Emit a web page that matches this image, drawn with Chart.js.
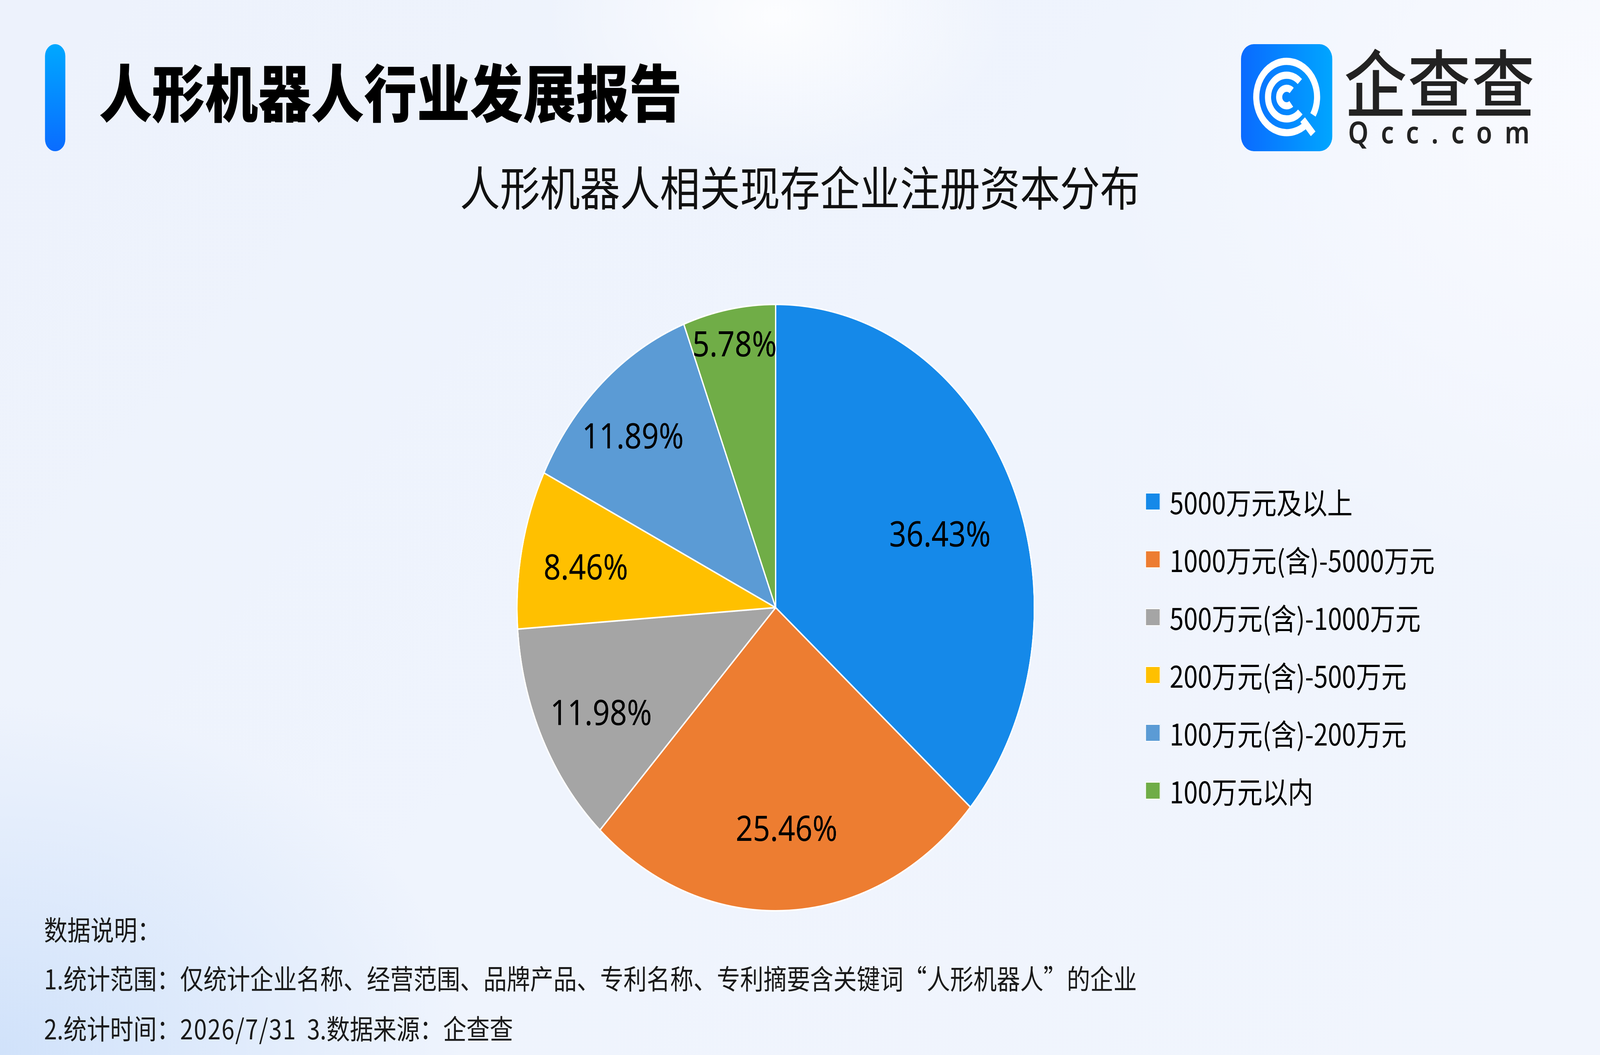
<!DOCTYPE html>
<html>
<head>
<meta charset="utf-8">
<script src="https://cdn.jsdelivr.net/npm/chart.js@4.4.1/dist/chart.umd.min.js"></script>
<style>
  @font-face {
    font-family: "LogoCJK";
    src: local("Noto Sans CJK SC Medium"), local("NotoSansCJKsc-Medium"), local("Noto Sans CJK SC"), local("Noto Sans CJK SC Regular"), local("NotoSansCJKsc-Regular");
    ascent-override: 90%; descent-override: 10%; line-gap-override: 0%;
  }
  @font-face {
    font-family: "LogoLatin";
    src: local("Noto Sans SemiBold"), local("NotoSans-SemiBold"), local("Noto Sans Medium"), local("NotoSans-Medium"), local("Noto Sans Regular"), local("NotoSans-Regular"), local("Noto Sans");
    ascent-override: 80%; descent-override: 22%; line-gap-override: 0%;
  }
  html, body { margin: 0; padding: 0; width: 100vw; height: 100vh; overflow: hidden; background: #eef3fc; }
  #stage {
    position: absolute; left: 0; top: 0; width: 4800px; height: 2700px; overflow: hidden;
    transform-origin: 0 0;
    font-family: "Noto Sans CJK SC", "Noto Sans", sans-serif;
    background:
      radial-gradient(ellipse 700px 380px at 2330px 40px, rgba(255,255,255,0.85), rgba(255,255,255,0) 100%),
      radial-gradient(ellipse 1400px 900px at 0px 2700px, rgba(205,224,250,0.9), rgba(205,224,250,0) 100%),
      radial-gradient(ellipse 1500px 1200px at 4800px 300px, rgba(250,251,255,0.9), rgba(250,251,255,0) 100%),
      linear-gradient(135deg, #edf2fc 0%, #eff4fd 50%, #f1f5fd 100%);
  }
  .bar {
    position: absolute; left: 135px; top: 113px; width: 61px; height: 274px;
    border-radius: 31px; background: linear-gradient(180deg, #00a8ff 0%, #0a6cff 100%);
  }
  .title {
    position: absolute; left: 297px; top: 143px; font-size: 159px; line-height: 174px;
    font-weight: 900; color: #000; white-space: nowrap;
  }
  .subtitle {
    position: absolute; left: 0; width: 4800px; top: 410px; text-align: center;
    font-size: 120px; line-height: 130px; color: #111; white-space: nowrap;
  }
  .logo-icon { position: absolute; left: 3723px; top: 113px; width: 274px; height: 274px; }
  .logo-cn {
    position: absolute; left: 4032px; top: 116px; font-family: "LogoCJK", "Noto Sans CJK SC", sans-serif;
    font-size: 188px; line-height: 188px; font-weight: 500; color: #222; letter-spacing: 4px; white-space: nowrap;
  }
  .logo-en {
    position: absolute; left: 4044px; top: 305px; font-family: "LogoLatin", "Noto Sans", sans-serif;
    font-size: 78px; line-height: 80px; font-weight: 600; color: #222; letter-spacing: 37px; white-space: nowrap;
  }
  #chartBox { position: absolute; left: 1527px; top: 755px; width: 1600px; height: 1600px; }
  #legend { position: absolute; left: 3436px; top: 0; }
  .lg-row { position: absolute; left: 0; height: 80px; display: flex; align-items: center; white-space: nowrap; }
  .lg-box { width: 41px; height: 41px; border: 2px solid #fff; flex: none; }
  .lg-text { margin-left: 28px; font-size: 76px; line-height: 80px; color: #000; }
  .foot { position: absolute; left: 132px; font-size: 70px; line-height: 80px; color: #1a1a1a; white-space: pre; }
  .num { letter-spacing: 2.5px; }
</style>
</head>
<body>
<div id="stage">
<div class="bar"></div>
<div class="title">人形机器人行业发展报告</div>
<div class="subtitle">人形机器人相关现存企业注册资本分布</div>

<svg class="logo-icon" viewBox="0 0 100 100">
  <defs>
    <linearGradient id="lg" x1="0" y1="0" x2="1" y2="0">
      <stop offset="0" stop-color="#0a6aff"/>
      <stop offset="1" stop-color="#00a6ff"/>
    </linearGradient>
  </defs>
  <rect x="0" y="0" width="100" height="100" rx="14" ry="14" fill="url(#lg)"/>
  <g fill="none" stroke="#fff" stroke-width="6.7" stroke-linecap="butt">
    <path d="M 78.84 66.05 A 33.3 33.3 0 1 0 71.4 74.9"/>
    <path d="M 67.5 70.5 L 79 83.8"/>
    <path d="M 64.42 34.98 A 20.4 20.4 0 1 0 64.92 63.31"/>
    <path d="M 55.49 43.31 A 8.2 8.2 0 1 0 55.05 55.86"/>
  </g>
</svg>
<div class="logo-cn">企查查</div>
<div class="logo-en">Qcc.com</div>

<div id="chartBox"><canvas id="c"></canvas></div>
<div id="legend"></div>

<div class="foot" style="top:2337px">数据说明：</div>
<div class="foot" style="top:2462px">1.统计范围：仅统计企业名称、经营范围、品牌产品、专利名称、专利摘要含关键词“人形机器人”的企业</div>
<div class="foot" style="top:2590px">2.统计时间：<span class="num">2026/7/31</span>  3.数据来源：企查查</div>
</div>

<script>
// ---- data ----
const categories = ['5000万元及以上', '1000万元(含)-5000万元', '500万元(含)-1000万元', '200万元(含)-500万元', '100万元(含)-200万元', '100万元以内'];
const shares = [36.43, 25.46, 11.98, 8.46, 11.89, 5.78];
const labelTexts = ['36.43%', '25.46%', '11.98%', '8.46%', '11.89%', '5.78%'];

// ---- styles ----
const sliceColors = ['#1589e9', '#ed7d31', '#a5a5a5', '#ffc000', '#5b9bd5', '#70ad47'];
// label placement relative to each arc: fraction of outer radius, angular nudge (deg)
const labelRadialFraction = [0.680, 0.729, 0.756, 0.746, 0.789, 0.884];
const labelAngleNudge = [3.5, -0.3, -1.6, -0.8, -1.9, 0.1];

// fill the 4800x2700 design into the actual viewport
const stage = document.getElementById('stage');
const sx = window.innerWidth / 4800, sy = window.innerHeight / 2700;
stage.style.transform = 'scale(' + sx + ',' + sy + ')';

const sliceLabels = {
  id: 'sliceLabels',
  afterDatasetsDraw(chart) {
    const ctx = chart.ctx;
    const meta = chart.getDatasetMeta(0);
    ctx.save();
    ctx.font = '90px "Noto Sans", sans-serif';
    ctx.fillStyle = '#000';
    ctx.textAlign = 'left';
    ctx.textBaseline = 'alphabetic';
    meta.data.forEach((arc, i) => {
      const p = arc.getProps(['x', 'y', 'startAngle', 'endAngle', 'outerRadius'], true);
      const mid = (p.startAngle + p.endAngle) / 2 + labelAngleNudge[i] * Math.PI / 180;
      const r = p.outerRadius * labelRadialFraction[i];
      const cx = p.x + Math.cos(mid) * r, cy = p.y + Math.sin(mid) * r;
      const m = ctx.measureText(labelTexts[i]);
      const inkW = m.actualBoundingBoxLeft + m.actualBoundingBoxRight;
      const tx = cx - inkW / 2 + m.actualBoundingBoxLeft;
      const ty = cy + (m.actualBoundingBoxAscent - m.actualBoundingBoxDescent) / 2;
      ctx.fillText(labelTexts[i], tx, ty);
    });
    ctx.restore();
  }
};

const chart = new Chart(document.getElementById('c'), {
  type: 'pie',
  data: {
    labels: categories,
    datasets: [{
      data: shares,
      backgroundColor: sliceColors,
      borderColor: '#ffffff',
      borderWidth: 4,
      radius: 776,
      hoverOffset: 0
    }]
  },
  options: {
    responsive: true,
    maintainAspectRatio: false,
    animation: false,
    events: [],
    devicePixelRatio: 2,
    layout: { padding: 0 },
    plugins: {
      legend: { display: false },
      tooltip: { enabled: false },
      title: { display: false }
    }
  },
  plugins: [sliceLabels]
});

// HTML legend built from the chart's own legend items
const legendEl = document.getElementById('legend');
const items = chart.options.plugins.legend.labels.generateLabels(chart);
const rowStart = 1283, rowStep = 148;
items.forEach((it, i) => {
  const row = document.createElement('div');
  row.className = 'lg-row';
  row.style.top = (rowStart + i * rowStep - 40) + 'px';
  const box = document.createElement('div');
  box.className = 'lg-box';
  box.style.background = it.fillStyle;
  const txt = document.createElement('span');
  txt.className = 'lg-text';
  txt.textContent = it.text;
  row.appendChild(box);
  row.appendChild(txt);
  legendEl.appendChild(row);
});
</script>
</body>
</html>
